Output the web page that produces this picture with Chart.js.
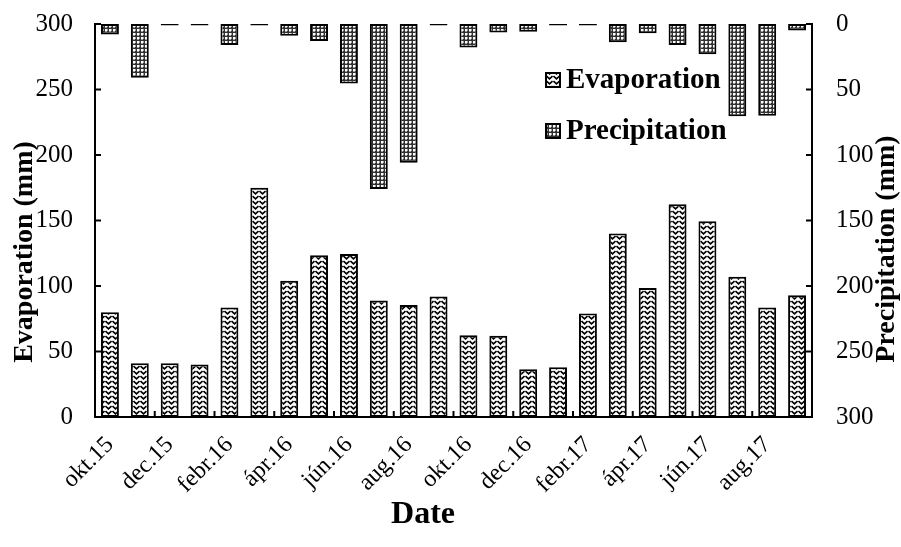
<!DOCTYPE html>
<html>
<head>
<meta charset="utf-8">
<script src="https://cdn.jsdelivr.net/npm/chart.js@4.4.0/dist/chart.umd.min.js"></script>
<style>
  html, body { margin: 0; padding: 0; background: #ffffff; }
  #wrap { width: 901px; height: 547px; position: relative; }
</style>
</head>
<body>
<div id="wrap"><canvas id="c" width="901" height="547"></canvas></div>
<script>
const months = ['okt.15','nov.15','dec.15','jan.16','febr.16','márc.16','ápr.16','máj.16','jún.16','júl.16','aug.16','szept.16',
                'okt.16','nov.16','dec.16','jan.17','febr.17','márc.17','ápr.17','máj.17','jún.17','júl.17','aug.17','szept.17'];
const evaporation = [80, 41, 41, 40, 83.5, 175, 104, 123.5, 124.5, 89, 85.5, 92,
                     62.5, 62, 36.5, 38, 79, 140, 98.5, 162.5, 149.5, 107, 83.5, 93];
const precipitation = [8, 41, 0, 0, 16, 0, 9, 13, 45.5, 126, 106, 0,
                       18, 6.5, 6, 0, 0, 14, 7, 16, 23, 70.5, 70, 5];
const leftTicks = [0, 50, 100, 150, 200, 250, 300];
const rightTicks = [0, 50, 100, 150, 200, 250, 300];
const seriesNames = ['Evaporation', 'Precipitation'];
const titles = { x: 'Date', y: 'Evaporation (mm)', y2: 'Precipitation (mm)' };

const SERIF = '"Liberation Serif", "Times New Roman", "DejaVu Serif", serif';

const canvas = document.getElementById('c');
const ctx = canvas.getContext('2d');

function makeEvapPattern() {
  const t = document.createElement('canvas');
  t.width = 7; t.height = 5;
  const g = t.getContext('2d');
  g.fillStyle = '#ffffff'; g.fillRect(0, 0, 7, 5);
  g.strokeStyle = '#000000'; g.lineWidth = 1.6;
  g.beginPath();
  g.moveTo(0.5, 1); g.lineTo(3.5, 3.8); g.lineTo(6.5, 1);
  g.stroke();
  return ctx.createPattern(t, 'repeat');
}
function makePrecPattern() {
  const t = document.createElement('canvas');
  t.width = 4; t.height = 4;
  const g = t.getContext('2d');
  g.fillStyle = '#303030'; g.fillRect(0, 0, 4, 4);
  g.fillStyle = '#ffffff'; g.fillRect(1, 1, 2, 2);
  g.fillStyle = '#a0a0a0'; g.fillRect(3, 1, 1, 2); g.fillRect(1, 3, 2, 1);
  return ctx.createPattern(t, 'repeat');
}
const evapPattern = makeEvapPattern();
const precPattern = makePrecPattern();

const bgPlugin = {
  id: 'bg',
  beforeDraw(chart) {
    const c = chart.ctx;
    c.save(); c.fillStyle = '#ffffff'; c.fillRect(0, 0, chart.width, chart.height); c.restore();
  }
};

const decorPlugin = {
  id: 'decor',
  afterDraw(chart) {
    const c = chart.ctx, ca = chart.chartArea;
    const x = chart.scales.x, yL = chart.scales.y, yR = chart.scales.y2;
    c.save();
    c.strokeStyle = '#000'; c.lineWidth = 2;
    yL.ticks.forEach(t => {
      const p = yL.getPixelForValue(t.value);
      c.beginPath(); c.moveTo(ca.left, p); c.lineTo(ca.left + 6, p); c.stroke();
    });
    yR.ticks.forEach(t => {
      const p = yR.getPixelForValue(t.value);
      c.beginPath(); c.moveTo(ca.right - 6, p); c.lineTo(ca.right, p); c.stroke();
    });
    for (let i = 2; i < months.length; i += 2) {
      const p = (x.getPixelForValue(i) + x.getPixelForValue(i - 1)) / 2;
      c.beginPath(); c.moveTo(p, ca.bottom); c.lineTo(p, ca.bottom - 6); c.stroke();
    }
    c.fillStyle = '#000';
    c.font = 'bold 28px ' + SERIF;
    c.textAlign = 'center'; c.textBaseline = 'middle';
    c.save(); c.translate(25, 252); c.rotate(-Math.PI / 2); c.fillText(titles.y, 0, 0); c.restore();
    c.save(); c.translate(887, 249); c.rotate(-Math.PI / 2); c.fillText(titles.y2, 0, 0); c.restore();
    c.font = 'bold 32px ' + SERIF;
    c.fillText(titles.x, 423, 515);
    const items = [{ name: seriesNames[0], fill: evapPattern, y: 80 }, { name: seriesNames[1], fill: precPattern, y: 131 }];
    items.forEach(it => {
      c.fillStyle = it.fill;
      c.fillRect(546, it.y - 7, 14, 14);
      c.lineWidth = 2; c.strokeStyle = '#000';
      c.strokeRect(546, it.y - 7, 14, 14);
      c.fillStyle = '#000';
      c.font = 'bold 29px ' + SERIF;
      c.textAlign = 'left'; c.textBaseline = 'middle';
      c.fillText(it.name, 566, it.y + 1);
    });
    c.restore();
  }
};

function fixVertical(width) {
  return s => { s.width = width; s.paddingTop = 0; s.paddingBottom = 0; };
}

new Chart(canvas, {
  type: 'bar',
  data: {
    labels: months,
    datasets: [
      {
        label: seriesNames[0], data: evaporation, yAxisID: 'y',
        backgroundColor: evapPattern, borderColor: '#000', borderWidth: 2,
        borderSkipped: false, grouped: false, barPercentage: 0.6, categoryPercentage: 1.0
      },
      {
        label: seriesNames[1], data: precipitation, yAxisID: 'y2',
        backgroundColor: precPattern, borderColor: '#000', borderWidth: 2,
        borderSkipped: false, grouped: false, barPercentage: 0.6, categoryPercentage: 1.0,
        minBarLength: 3
      }
    ]
  },
  options: {
    responsive: false,
    animation: false,
    devicePixelRatio: 1,
    layout: { padding: { top: 24, left: 0, right: 0, bottom: 0 } },
    plugins: { legend: { display: false }, tooltip: { enabled: false }, title: { display: false } },
    scales: {
      x: {
        grid: { display: false, drawTicks: false },
        border: { display: true, color: '#000', width: 2 },
        ticks: {
          autoSkip: false, maxRotation: 45, minRotation: 45, padding: 14,
          color: '#000', font: { family: SERIF, size: 24 },
          callback: (v, i) => (i % 2 === 0 ? months[i] : '')
        },
        afterFit: s => { s.height = 130; s.paddingLeft = 0; s.paddingRight = 0; }
      },
      y: {
        position: 'left', min: 0, max: 300,
        grid: { display: false, drawTicks: false },
        border: { display: true, color: '#000', width: 2 },
        afterBuildTicks: s => { s.ticks = leftTicks.map(v => ({ value: v })); },
        ticks: { padding: 22, color: '#000', font: { family: SERIF, size: 25 } },
        afterFit: fixVertical(95)
      },
      y2: {
        position: 'right', min: 0, max: 300, reverse: true,
        grid: { display: false, drawTicks: false },
        border: { display: true, color: '#000', width: 2 },
        afterBuildTicks: s => { s.ticks = rightTicks.map(v => ({ value: v })); },
        ticks: { padding: 24, color: '#000', font: { family: SERIF, size: 25 } },
        afterFit: fixVertical(89)
      }
    }
  },
  plugins: [bgPlugin, decorPlugin]
});
</script>
</body>
</html>
